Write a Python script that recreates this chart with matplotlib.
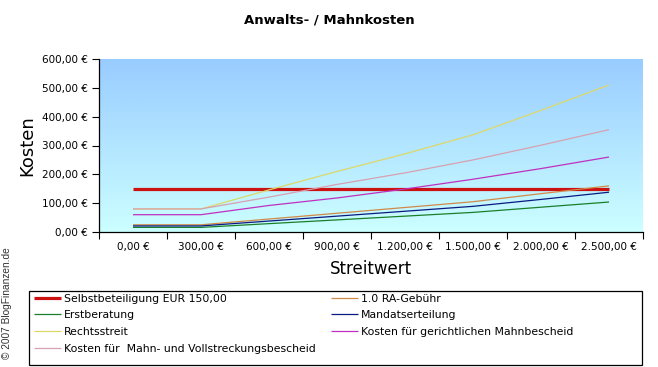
import numpy as np
import matplotlib
matplotlib.use("Agg")
import matplotlib.pyplot as plt
from matplotlib.patches import Rectangle

plt.rcParams['font.family'] = ['DejaVu Sans']

# ---- data ----
categories = ["0,00 €", "300,00 €", "600,00 €", "900,00 €",
              "1.200,00 €", "1.500,00 €", "2.000,00 €", "2.500,00 €"]
y_ticks = [0, 100, 200, 300, 400, 500, 600]
y_tick_labels = ["0,00 €", "100,00 €", "200,00 €", "300,00 €",
                 "400,00 €", "500,00 €", "600,00 €"]

selbstbeteiligung = [150, 150, 150, 150, 150, 150, 150, 150]
ra_gebuehr = [25, 25, 45, 65, 85, 105, 133, 160]
erstberatung = [16, 16, 29, 42, 55, 68, 86, 104]
mandatserteilung = [21, 21, 38, 55, 72, 89, 113, 138]
rechtsstreit = [80, 80, 146, 210, 271, 337, 422, 510]
mahnbescheid = [60, 60, 92, 118, 149, 183, 220, 260]
mahn_vollstreckung = [80, 80, 121, 165, 205, 250, 301, 355]

series = [
    ("Selbstbeteiligung EUR 150,00", selbstbeteiligung, "#CC1111", 2.3),
    ("1.0 RA-Gebühr", ra_gebuehr, "#D08A48", 0.9),
    ("Erstberatung", erstberatung, "#1A7F2A", 0.9),
    ("Mandatserteilung", mandatserteilung, "#0A1A80", 0.9),
    ("Rechtsstreit", rechtsstreit, "#DDD868", 0.9),
    ("Kosten für gerichtlichen Mahnbescheid", mahnbescheid, "#C030C0", 0.9),
    ("Kosten für  Mahn- und Vollstreckungsbescheid", mahn_vollstreckung, "#D8A0B0", 0.9),
]

W, H = 658, 367
fig = plt.figure(figsize=(W / 100, H / 100), dpi=100)
fig.patch.set_facecolor("white")

left, right, top, bottom = 99, 643, 59, 232
ax = fig.add_axes([left / W, 1 - bottom / H, (right - left) / W, (bottom - top) / H])

# gradient background
top_c = np.array([153, 204, 255]) / 255
bot_c = np.array([204, 255, 255]) / 255
t = np.linspace(0, 1, 256)[:, None, None]
grad = top_c * (1 - t) + bot_c * t
ax.imshow(grad, extent=[0, 1, 0, 1], transform=ax.transAxes, aspect="auto",
          zorder=0, interpolation="bilinear")

x = np.arange(len(categories))
lines = {}
for name, vals, col, lw in series:
    ln, = ax.plot(x, vals, color=col, lw=lw, label=name, zorder=2,
                  solid_capstyle="butt")
    lines[name] = ln

ax.set_xlim(-0.5, len(categories) - 0.5)
ax.set_ylim(0, 600)

ax.set_yticks(y_ticks)
ax.set_yticklabels(y_tick_labels, fontsize=7.5)
ax.set_xticks(np.arange(len(categories) + 1) - 0.5)
ax.set_xticklabels([])
ax.set_xticks(x, minor=True)
ax.set_xticklabels(categories, minor=True, fontsize=7.5)
ax.tick_params(axis="x", which="major", length=5, width=0.8, direction="out")
ax.tick_params(axis="x", which="minor", length=0, pad=7)
ax.tick_params(axis="y", length=5, width=0.8, direction="out", pad=3)

for s in ["top", "right"]:
    ax.spines[s].set_visible(False)
for s in ["left", "bottom"]:
    ax.spines[s].set_linewidth(0.9)
    ax.spines[s].set_color("black")

ax.set_ylabel("Kosten", fontsize=13, labelpad=4)
ax.set_xlabel("Streitwert", fontsize=12, labelpad=6)

fig.text(0.5, 1 - 20 / H, "Anwalts- / Mahnkosten", ha="center", va="center",
         fontsize=9.5, fontweight="bold")

fig.text(7 / W, 1 - 303 / H, "© 2007 BlogFinanzen.de", rotation=90,
         ha="center", va="center", fontsize=7.3, color="#333333",
         family=["Liberation Sans", "DejaVu Sans"])

# legend frame
fig.patches.append(Rectangle((29 / W, 1 - 365 / H), (642 - 29) / W, (365 - 291) / H,
                             transform=fig.transFigure, fill=False,
                             edgecolor="black", lw=0.9))

col1 = ["Selbstbeteiligung EUR 150,00", "Erstberatung", "Rechtsstreit",
        "Kosten für  Mahn- und Vollstreckungsbescheid"]
col2 = ["1.0 RA-Gebühr", "Mandatserteilung", "Kosten für gerichtlichen Mahnbescheid"]
kw = dict(frameon=False, fontsize=7.8, handlelength=2.5, handletextpad=0.25,
          labelspacing=0.62, borderpad=0, borderaxespad=0, loc="upper left")
leg1 = fig.legend([lines[n] for n in col1], col1,
                  bbox_to_anchor=(34 / W, 1 - 293.5 / H), **kw)
leg2 = fig.legend([lines[n] for n in col2], col2,
                  bbox_to_anchor=(331 / W, 1 - 293.5 / H), **kw)

fig.savefig("out.png", dpi=100)
